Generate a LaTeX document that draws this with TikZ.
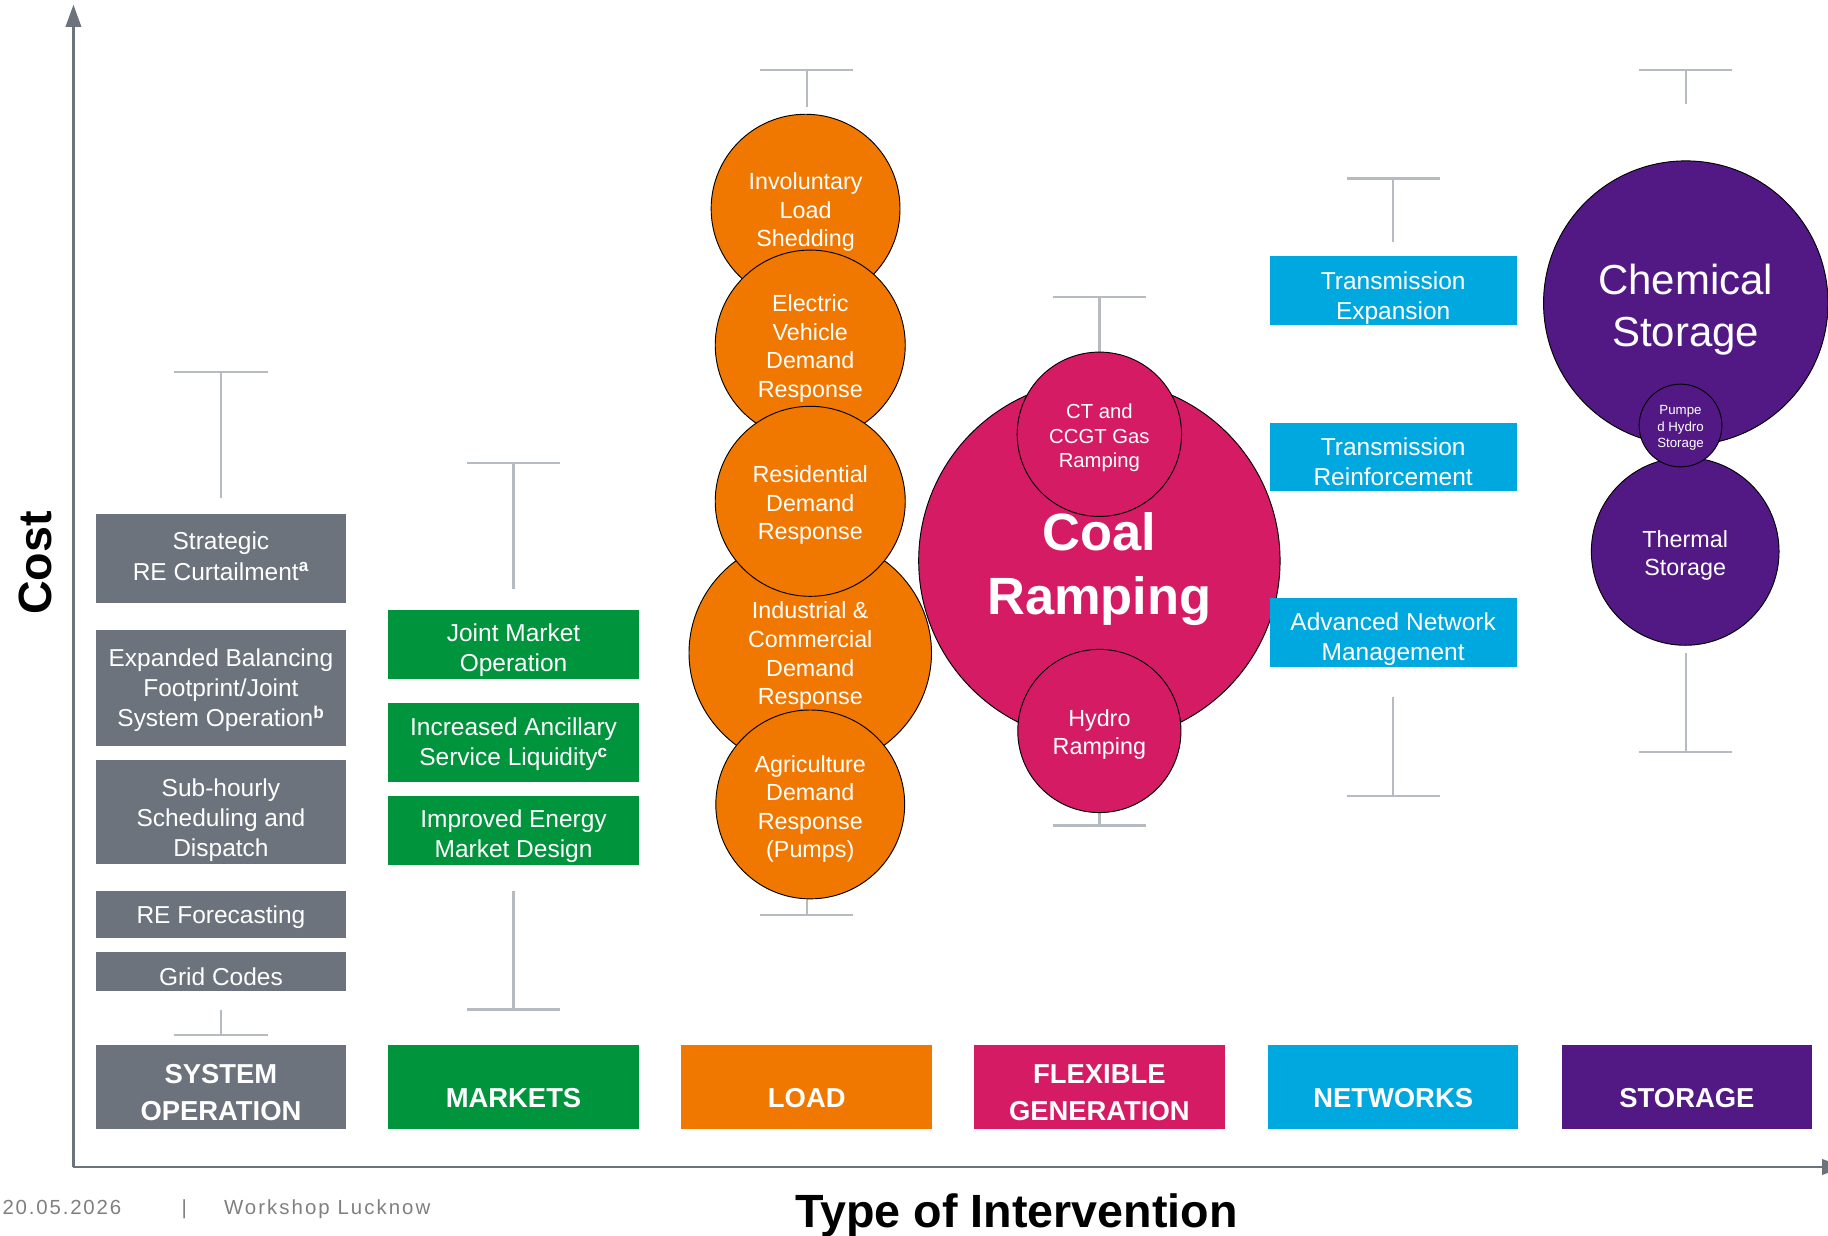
\documentclass[tikz,border=0pt]{standalone}
\usepackage{fontspec}
\setmainfont{Liberation Sans}
\usetikzlibrary{arrows.meta,calc,shapes.geometric}
\definecolor{sysgray}{HTML}{6C737C}
\definecolor{mktgreen}{HTML}{00943D}
\definecolor{loadorange}{HTML}{F07800}
\definecolor{flexmag}{HTML}{D41B64}
\definecolor{netcyan}{HTML}{00A8E0}
\definecolor{storpurple}{HTML}{521884}
\definecolor{whiskgray}{HTML}{B5BBC1}
\definecolor{footgray}{HTML}{7F7F7F}
\begin{document}
\begin{tikzpicture}[x=1pt,y=-1pt,
  box/.style={rectangle, inner sep=0pt, minimum width=215pt},
  boxtext/.style={text=white, align=center, inner sep=0pt, font=\fontsize{21}{26}\selectfont},
  catbox/.style={rectangle, inner sep=0pt, minimum width=215pt, minimum height=72pt},
  cattext/.style={text=white, align=center, font=\bfseries\fontsize{23.5}{32}\selectfont},
  bub/.style={circle, draw=black, line width=0.8pt, inner sep=0pt},
  bubtext/.style={text=white, align=center, inner sep=0pt, font=\fontsize{20}{24.5}\selectfont},
  whisk/.style={draw=whiskgray, line width=2pt},
  axis/.style={draw=sysgray, line width=2.5pt}
]
\useasboundingbox (0,0) rectangle (1568,1060);

% shape node + its text node shifted by #5
% #1 shape style, #2 text style, #3 name, #4 position, #5 text shift, #6 text
\newcommand\tnode[6]{%
  \node[#1] (#3) at #4 {};
  \node[#2] (#3t) at ($(#3.center)+(0,#5)$) {#6};}

% axes
\coordinate (origin) at (63,1001);
\coordinate (ytop) at (63,4);
\coordinate (xend) at (1582,1001);
\draw[axis, -{Triangle[width=13pt,length=19pt]}] (origin) -- (ytop);
\draw[axis, -{Triangle[width=13pt,length=19pt]}] (origin) -- (xend);

\node[rotate=90, font=\bfseries\fontsize{40}{40}\selectfont] (cost) at (30,483) {Cost};
\node[anchor=base, font=\bfseries\fontsize{40}{40}\selectfont] (toi) at (872,1053) {Type of Intervention};
\node[anchor=base west, inner sep=0pt, text=footgray, font=\fontsize{17.5}{20}\selectfont\addfontfeatures{LetterSpace=9}] (date) at (2,1042) {20.05.2026};
\node[anchor=base, inner sep=0pt, text=footgray, font=\fontsize{17.5}{20}\selectfont] (bar) at (158,1042) {|};
\node[anchor=base west, inner sep=0pt, text=footgray, font=\fontsize{17.5}{20}\selectfont\addfontfeatures{LetterSpace=10}] (ws) at (192,1042) {Workshop Lucknow};

% whiskers
\newcommand\mywhisk[3]{%
  \draw[whisk] ($(#1,#2)+(-40,0)$) -- ($(#1,#2)+(40,0)$);
  \draw[whisk] (#1,#2) -- (#1,#3);}
\mywhisk{189.5}{319}{427}
\mywhisk{189.5}{888}{866}
\mywhisk{440.5}{397}{505}
\mywhisk{440.5}{866}{764}
\mywhisk{692}{60}{92}
\mywhisk{692}{785}{768}
\mywhisk{943}{255}{303}
\mywhisk{943}{708}{696}
\mywhisk{1195}{153}{208}
\mywhisk{1195}{683}{598}
\mywhisk{1446}{60}{89}
\mywhisk{1446}{645}{560}

% category boxes
\tnode{catbox, fill=sysgray}{cattext}{catS}{(189.5,932)}{5}{SYSTEM\\OPERATION}
\tnode{catbox, fill=mktgreen}{cattext}{catM}{(440.5,932)}{10}{MARKETS}
\tnode{catbox, fill=loadorange}{cattext}{catL}{(692,932)}{10}{LOAD}
\tnode{catbox, fill=flexmag}{cattext}{catF}{(943,932)}{5}{FLEXIBLE\\GENERATION}
\tnode{catbox, fill=netcyan}{cattext}{catN}{(1195,932)}{10}{NETWORKS}
\tnode{catbox, fill=storpurple}{cattext}{catSt}{(1447,932)}{10}{STORAGE}

% system operation
\tnode{box, fill=sysgray, minimum height=76pt}{boxtext}{s1}{(189.5,479)}{-2}{Strategic\\RE Curtailment\textsuperscript{\textbf{a}}}
\tnode{box, fill=sysgray, minimum height=100pt}{boxtext}{s2}{(189.5,590)}{2}{Expanded Balancing\\Footprint/Joint\\System Operation\textsuperscript{\textbf{b}}}
\tnode{box, fill=sysgray, minimum height=89pt}{boxtext}{s3}{(189.5,696.5)}{7}{Sub-hourly\\Scheduling and\\Dispatch}
\tnode{box, fill=sysgray, minimum height=41pt}{boxtext}{s4}{(189.5,784.5)}{2}{RE Forecasting}
\tnode{box, fill=sysgray, minimum height=33pt}{boxtext}{s5}{(189.5,833.5)}{4.5}{Grid Codes}

% markets
\tnode{box, fill=mktgreen, minimum height=59pt}{boxtext}{m1}{(440.5,552.5)}{5}{Joint Market\\Operation}
\tnode{box, fill=mktgreen, minimum height=68pt}{boxtext}{m2}{(440.5,637)}{1.5}{Increased Ancillary\\Service Liquidity\textsuperscript{\textbf{c}}}
\tnode{box, fill=mktgreen, minimum height=59pt}{boxtext}{m3}{(440.5,712.5)}{5}{Improved Energy\\Market Design}

% load
\tnode{bub, fill=loadorange, minimum size=162pt}{bubtext}{l1}{(691,179)}{3}{Involuntary\\Load\\Shedding}
\tnode{bub, fill=loadorange, minimum size=163pt}{bubtext}{l2}{(695,296)}{3}{Electric\\Vehicle\\Demand\\Response}
\tnode{bub, ellipse, fill=loadorange, minimum width=208pt, minimum height=200pt}{bubtext}{l4}{(695,560)}{2.5}{Industrial \&\\Commercial\\Demand\\Response}
\tnode{bub, fill=loadorange, minimum size=163pt}{bubtext}{l3}{(695,430)}{3.5}{Residential\\Demand\\Response}
\tnode{bub, fill=loadorange, minimum size=162pt}{bubtext}{l5}{(695,690)}{4}{Agriculture\\Demand\\Response\\(Pumps)}

% flexible generation
\tnode{bub, fill=flexmag, minimum size=310pt}{bubtext, font=\bfseries\fontsize{45}{55}\selectfont}{coal}{(943,481)}{7}{Coal\\Ramping}
\tnode{bub, fill=flexmag, minimum size=141pt}{bubtext, font=\fontsize{17.4}{21}\selectfont}{ct}{(943,372.5)}{3}{CT and\\CCGT Gas\\Ramping}
\tnode{bub, fill=flexmag, minimum size=140pt}{bubtext}{hydro}{(943,627)}{3}{Hydro\\Ramping}

% networks
\tnode{box, fill=netcyan, minimum width=212pt, minimum height=59pt}{boxtext}{n1}{(1195,249.5)}{6}{Transmission\\Expansion}
\tnode{box, fill=netcyan, minimum width=212pt, minimum height=58pt}{boxtext}{n2}{(1195,392)}{4}{Transmission\\Reinforcement}
\tnode{box, fill=netcyan, minimum width=212pt, minimum height=59pt}{boxtext}{n3}{(1195,542.5)}{6}{Advanced Network\\Management}

% storage
\tnode{bub, fill=storpurple, minimum size=244pt}{bubtext, font=\fontsize{36}{44}\selectfont}{chem}{(1446,260)}{5.5}{Chemical\\Storage}
\tnode{bub, fill=storpurple, minimum size=161pt}{bubtext}{therm}{(1445.5,473)}{3.5}{Thermal\\Storage}
\tnode{bub, fill=storpurple, minimum size=71pt}{bubtext, font=\fontsize{11.4}{14}\selectfont}{ph}{(1441.5,365)}{2}{Pumpe\\d Hydro\\Storage}
\end{tikzpicture}
\end{document}
